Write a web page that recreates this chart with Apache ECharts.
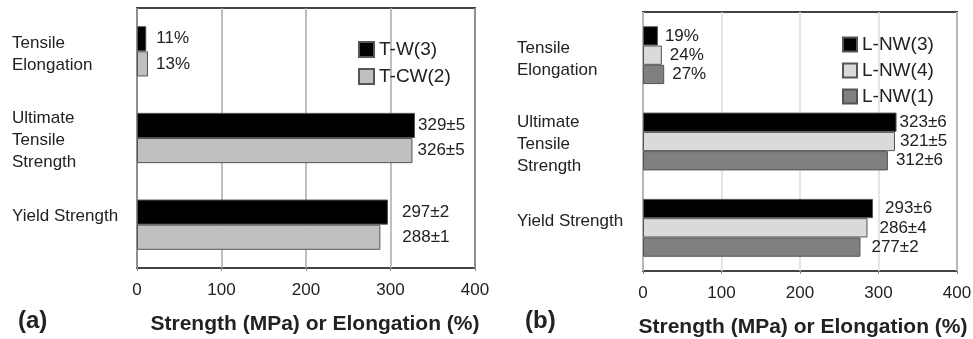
<!DOCTYPE html>
<html><head><meta charset="utf-8">
<script src="https://cdn.jsdelivr.net/npm/echarts@6/dist/echarts.min.js"></script>
<style>html,body{margin:0;padding:0;background:#fff}#c{width:973px;height:339px}</style>
</head><body><div id="c"></div>
<script>
const categories = ['Tensile\nElongation', 'Ultimate\nTensile\nStrength', 'Yield Strength'];
const xMin = 0, xMax = 400, xStep = 100;
// panel (a)
const tw3 = [11, 329, 297];
const tw3Err = [null, 5, 2];
const tcw2 = [13, 326, 288];
const tcw2Err = [null, 5, 1];
// panel (b)
const lnw3 = [19, 323, 293];
const lnw3Err = [null, 6, 6];
const lnw4 = [24, 321, 286];
const lnw4Err = [null, 5, 4];
const lnw1 = [27, 312, 277];
const lnw1Err = [null, 6, 2];

const FONT = '"Liberation Sans", Arial, sans-serif';
const TXT = '#222';

function fmt(err) {
  return p => p.dataIndex === 0 ? p.value + '%' : p.value + '±' + err[p.dataIndex];
}
function makeSeries(name, vals, err, color, idx, gaps) {
  return {
    name, type: 'bar', xAxisIndex: idx, yAxisIndex: idx,
    data: vals.map((v, i) => ({ value: v, label: { distance: gaps[i] } })),
    itemStyle: { color, borderColor: '#555', borderWidth: 1 },
    barGap: '0%', barCategoryGap: idx === 0 ? '42%' : '33%',
    label: { show: true, position: 'right', formatter: fmt(err), color: TXT, fontSize: 17, fontFamily: FONT },
    emphasis: { disabled: true }
  };
}
// shifts: vertical nudge (px) of each category label, + = down
function yAx(idx, margin, shifts) {
  const rich = { t: { fontSize: 17, lineHeight: 22, color: TXT, fontFamily: FONT, align: 'left' } };
  shifts.forEach((s, i) => { rich['g' + i] = { fontSize: 1, lineHeight: Math.max(1, Math.abs(s) * 2) }; });
  return {
    type: 'category', gridIndex: idx, inverse: true, data: categories,
    axisLine: { show: false }, axisTick: { show: false },
    axisLabel: {
      align: 'left', margin, color: TXT, fontSize: 17, lineHeight: 22, fontFamily: FONT, rich,
      formatter: (v, i) => {
        const body = v.split('\n').map(l => '{t|' + l + '}').join('\n');
        const s = shifts[i];
        if (s > 0) return '{g' + i + '| }\n' + body;
        if (s < 0) return body + '\n{g' + i + '| }';
        return body;
      }
    }
  };
}
function xAx(idx, gridColor, namePad) {
  return {
    type: 'value', gridIndex: idx, min: xMin, max: xMax, interval: xStep,
    axisLine: { show: false },
    axisTick: { show: true, length: 3, lineStyle: { color: '#888' } },
    splitLine: { show: true, lineStyle: { color: gridColor, width: 1.5 } },
    axisLabel: { margin: 14, color: TXT, fontSize: 17, fontFamily: FONT },
    name: 'Strength (MPa) or Elongation (%)', nameLocation: 'middle', nameGap: 46,
    nameTextStyle: { fontSize: 21, fontWeight: 'bold', color: TXT, fontFamily: FONT, padding: namePad }
  };
}

const chart = echarts.init(document.getElementById('c'), null, { renderer: 'canvas' });
chart.setOption({
  animation: false,
  backgroundColor: '#fff',
  title: [
    { text: '(a)', left: 13, top: 304, textStyle: { fontSize: 24, fontWeight: 'bold', color: TXT, fontFamily: FONT } },
    { text: '(b)', left: 520, top: 304, textStyle: { fontSize: 24, fontWeight: 'bold', color: TXT, fontFamily: FONT } }
  ],
  grid: [
    { left: 137, right: 498, top: 8, bottom: 71, show: true, borderColor: '#444', borderWidth: 2, backgroundColor: '#fff',
      containLabel: false, outerBoundsMode: 'none' },
    { left: 643, right: 16, top: 12, bottom: 68, show: true, borderColor: '#444', borderWidth: 2, backgroundColor: '#fff',
      containLabel: false, outerBoundsMode: 'none' }
  ],
  legend: [
    { data: ['T-W(3)', 'T-CW(2)'], orient: 'vertical', left: 358, top: 40, padding: 0, itemWidth: 15, itemHeight: 15, itemGap: 8,
      icon: 'rect', textStyle: { fontSize: 19, color: TXT, fontFamily: FONT } },
    { data: ['L-NW(3)', 'L-NW(4)', 'L-NW(1)'], orient: 'vertical', left: 842, top: 35, padding: 0, itemWidth: 14, itemHeight: 14, itemGap: 7,
      icon: 'rect', textStyle: { fontSize: 19, color: TXT, fontFamily: FONT } }
  ],
  xAxis: [xAx(0, '#aaa', [0, 0, 0, 18]), xAx(1, '#ddd', [0, 0, 0, 6])],
  yAxis: [
    yAx(0, 125, [3, 2, -8]),
    yAx(1, 126, [4, 3, -7])
  ],
  series: [
    makeSeries('T-W(3)', tw3, tw3Err, '#000', 0, [10, 3, 14]),
    makeSeries('T-CW(2)', tcw2, tcw2Err, '#c0c0c0', 0, [8, 5, 22]),
    makeSeries('L-NW(3)', lnw3, lnw3Err, '#000', 1, [7, 3, 12]),
    makeSeries('L-NW(4)', lnw4, lnw4Err, '#dadada', 1, [8, 5, 12]),
    makeSeries('L-NW(1)', lnw1, lnw1Err, '#808080', 1, [8, 8, 11])
  ]
});
</script></body></html>
